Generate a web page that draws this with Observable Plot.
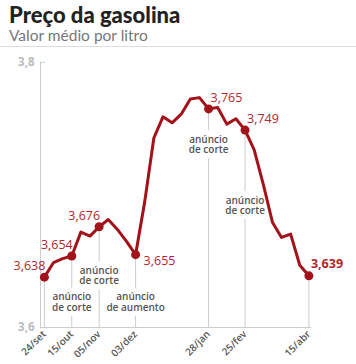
<!DOCTYPE html>
<html><head><meta charset="utf-8">
<script src="https://cdn.jsdelivr.net/npm/d3@7"></script>
<script src="https://cdn.jsdelivr.net/npm/@observablehq/plot@0.6"></script>
<style>
body{margin:0;background:#fff;width:356px;height:364px;overflow:hidden;font-family:"Open Sans",sans-serif;}
#title{position:absolute;left:9px;top:2px;font:900 22px/25px Lato,sans-serif;color:#222;margin:0;}
#sub{position:absolute;left:9px;top:26px;font:400 15.5px/18px Lato,sans-serif;color:#777;margin:0;}
#hr{position:absolute;left:0;top:46px;width:356px;border-top:1px solid #ddd;}
#chart{position:absolute;left:0;top:48px;}
</style></head><body>
<div id="title">Preço da gasolina</div>
<div id="sub">Valor médio por litro</div>
<div id="hr"></div>
<div id="chart"></div>
<script>
const weeks = ["2018-09-24","2018-10-01","2018-10-08","2018-10-15","2018-10-22","2018-10-29","2018-11-05","2018-11-12","2018-11-19","2018-11-26","2018-12-03","2018-12-10","2018-12-17","2018-12-24","2018-12-31","2019-01-07","2019-01-14","2019-01-21","2019-01-28","2019-02-04","2019-02-11","2019-02-18","2019-02-25","2019-03-04","2019-03-11","2019-03-18","2019-03-25","2019-04-01","2019-04-08","2019-04-15"];
const prices = [3.638,3.649,3.652,3.654,3.672,3.669,3.676,3.6815,3.674,3.665,3.655,3.695,3.743,3.759,3.7545,3.761,3.7725,3.7735,3.765,3.766,3.7535,3.7575,3.749,3.734,3.708,3.6795,3.668,3.6705,3.647,3.639];
const eventDates = ["2018-09-24","2018-10-15","2018-11-05","2018-12-03","2019-01-28","2019-02-25","2019-04-15"];
const tickLabels = ["24/set","15/out","05/nov","03/dez","28/jan","25/fev","15/abr"];
const annDates = ["2018-10-15","2018-11-05","2018-12-03","2019-01-28","2019-02-25"];
const annTexts = ["anúncio\nde corte","anúncio\nde corte","anúncio\nde aumento","anúncio\nde corte","anúncio\nde corte"];
const annY = [3.619,3.639,3.619,3.738,3.692];
const yTicks = [3.6,3.8];

const parse = d3.utcParse("%Y-%m-%d");
const data = weeks.map((w,i)=>({key:w,date:parse(w),value:prices[i]}));
const ev = eventDates.map((d,i)=>({key:d,date:parse(d),value:prices[weeks.indexOf(d)],tick:tickLabels[i]}));
const ann = annDates.map((d,i)=>({key:d,date:parse(d),y:annY[i],text:annTexts[i]}));
const HALF = 0.0105; // half height of a two-line note, in price units
// split each event rule around its note
const segs = [];
ev.forEach(e=>{
  const a = ann.find(n=>n.key===e.key);
  if (a) {
    segs.push({date:e.date, y1:e.value, y2:a.y+HALF});
    segs.push({date:e.date, y1:a.y-HALF, y2:3.6});
  } else segs.push({date:e.date, y1:e.value, y2:3.6});
});
const x0 = d3.utcDay.offset(data[0].date,-3), x1 = d3.utcDay.offset(data[data.length-1].date,2);
const fmt = v => d3.format(".3f")(v).replace(".",",");
const RED = "#a3121b", LRED = "#b0262c";
const pick = keys => ev.filter(d=>keys.includes(d.key));
const valText = (keys, o) => Plot.text(pick(keys), {x:"date", y:"value", text:d=>fmt(d.value), fill:LRED, fontSize:12.5, fontFamily:"Open Sans", ...o});

const chart = Plot.plot({
  width:356, height:316, marginLeft:40, marginRight:45, marginTop:14, marginBottom:37,
  x:{type:"utc", domain:[x0,x1]},
  y:{domain:[3.6,3.8]},
  style:{fontFamily:"Open Sans", background:"white", overflow:"visible"},
  marks:[
    Plot.ruleX(segs, {x:"date", y1:"y1", y2:"y2", stroke:"#ccc", strokeWidth:1}),
    Plot.text(ann, {x:"date", y:"y", text:"text", fill:"#555", fontSize:10, fontWeight:600, lineHeight:1.05}),
    Plot.ruleY([3.6], {stroke:"#ccc"}),
    Plot.ruleX([x0], {y1:3.6, y2:3.8, stroke:"#ccc"}),
    Plot.ruleY(yTicks, {x1:x0, x2:d3.utcDay.offset(x0,4), stroke:"#ccc"}),
    Plot.axisY({ticks:yTicks, tickSize:0, tickPadding:6, tickFormat:d=>d.toFixed(1).replace(".",","), fill:"#bbb", fontSize:11.5, fontWeight:700, label:null}),
    Plot.axisX({ticks:ev.map(d=>d.date), tickFormat:(d,i)=>tickLabels[i], tickRotate:-45, tickSize:0, tickPadding:5, fill:"#555", fontSize:10, fontWeight:600, label:null}),
    Plot.line(data, {x:"date", y:"value", stroke:RED, strokeWidth:3, strokeLinejoin:"round", strokeLinecap:"round"}),
    Plot.dot(ev, {x:"date", y:"value", r:4.5, fill:RED}),
    valText(["2018-09-24","2018-10-15","2018-11-05"], {textAnchor:"end", dx:1, dy:-11}),
    valText(["2018-12-03"], {textAnchor:"start", dx:8, dy:6}),
    valText(["2019-01-28","2019-02-25"], {textAnchor:"start", dx:2, dy:-11}),
    valText(["2019-04-15"], {textAnchor:"start", dx:2, dy:-12, fontWeight:700})
  ]
});
document.getElementById("chart").appendChild(chart);
</script>
</body></html>
